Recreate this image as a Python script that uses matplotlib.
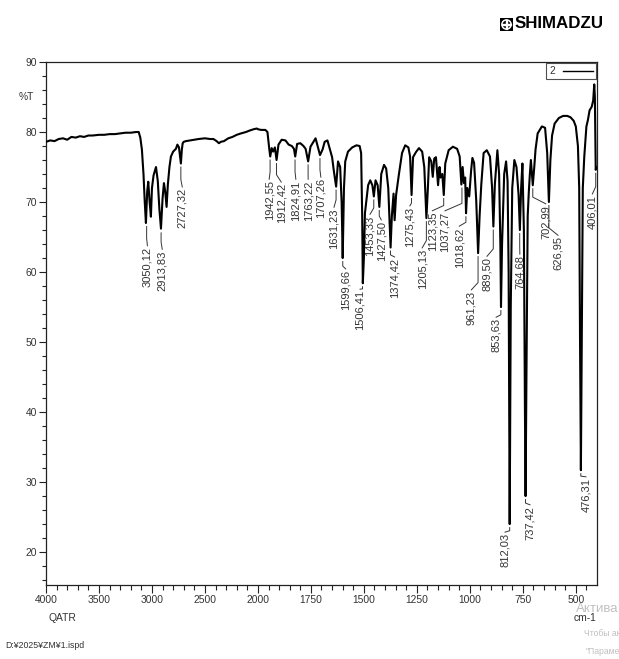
import numpy as np
import matplotlib
matplotlib.use('Agg')
import matplotlib.pyplot as plt
from matplotlib.patches import Rectangle, Circle

plt.rcParams['font.family'] = ['Liberation Sans', 'DejaVu Sans']

# ---------------- data ----------------
wavenumber = [
    4000, 3960, 3920, 3880, 3840, 3800, 3760, 3720, 3680, 3640, 3600, 3560, 3500,
    3450, 3400, 3350, 3300, 3250, 3200, 3150, 3125, 3110, 3095, 3080, 3068, 3057,
    3045, 3035, 3022, 3010, 3000, 2985, 2962, 2945, 2930, 2915, 2900, 2887, 2875,
    2862, 2850, 2835, 2821, 2800, 2774, 2760, 2745, 2735, 2727, 2718, 2710, 2700,
    2679, 2640, 2600, 2560, 2500, 2450, 2420, 2390, 2368, 2350, 2320, 2280, 2240,
    2200, 2160, 2113, 2080, 2040, 2010,
    2000, 1985, 1965, 1955, 1948, 1942, 1935, 1928, 1920, 1912, 1903, 1888, 1870,
    1855, 1840, 1830, 1824, 1815, 1800, 1785, 1775, 1763, 1752, 1740, 1728, 1720,
    1707, 1695, 1685, 1672, 1660, 1650, 1642, 1631, 1622, 1612, 1605, 1600, 1594,
    1588, 1575, 1555, 1535, 1520, 1513, 1508, 1505, 1500, 1495, 1480, 1470, 1460,
    1453, 1445, 1435, 1427, 1418, 1405, 1395, 1385, 1374, 1368, 1360, 1355, 1348,
    1335, 1320, 1305, 1290, 1282, 1275, 1268, 1255, 1240, 1225, 1215, 1205, 1198,
    1192, 1182, 1175, 1168, 1160, 1150, 1143, 1138, 1130, 1123, 1116, 1100, 1080,
    1060, 1048, 1040, 1034, 1028, 1022, 1018, 1012, 1003, 994, 988, 980, 970, 961,
    954, 946, 935, 920, 905, 895, 889, 882, 870, 862, 856, 853, 848, 838, 829, 822,
    817, 812, 807, 800, 790, 780, 770, 764, 758, 752, 745, 740, 737, 733, 727, 722,
    717, 712, 703, 696, 690, 680, 660, 645, 635, 627, 620, 612, 600, 580, 560, 540,
    525, 510, 500, 490, 484, 480, 476, 472, 467, 460, 450, 443, 435, 425, 418, 413,
    410, 408, 406, 403, 400,
]
transmittance = [
    78.6, 78.8, 78.7, 79.0, 79.1, 78.9, 79.3, 79.2, 79.4, 79.3, 79.5, 79.5, 79.6,
    79.6, 79.7, 79.7, 79.8, 79.9, 79.9, 80.0, 80.0, 79.2, 77.5, 74.0, 70.0, 67.0,
    71.5, 72.9, 70.0, 67.9, 72.0, 73.8, 75.0, 73.0, 69.0, 66.2, 70.5, 72.7, 71.5,
    69.3, 72.5, 75.0, 76.5, 77.2, 77.6, 78.2, 77.8, 76.5, 75.5, 77.5, 78.4, 78.6,
    78.7, 78.8, 78.9, 79.0, 79.1, 79.0, 79.0, 78.7, 78.4, 78.6, 78.7, 79.1, 79.3,
    79.6, 79.8, 80.0, 80.2, 80.4, 80.5,
    80.4, 80.3, 80.3, 80.0, 78.0, 76.5, 77.7, 77.2, 77.8, 76.0, 78.2, 78.9, 78.8,
    78.2, 78.0, 77.6, 76.5, 78.3, 78.4, 78.0, 77.6, 75.8, 77.9, 78.5, 79.1, 78.2,
    76.7, 77.5, 78.6, 78.8, 77.5, 76.4, 74.5, 72.2, 75.8, 75.0, 70.0, 62.0, 72.0,
    75.8, 77.2, 77.8, 78.1, 78.0, 77.0, 68.0, 58.4, 62.0, 68.4, 72.4, 73.1, 72.4,
    70.8, 73.1, 72.4, 69.3, 74.0, 75.3, 74.8, 72.0, 63.5, 68.0, 71.2, 67.4, 71.0,
    73.9, 77.0, 78.1, 77.8, 76.5, 71.0, 76.4, 77.1, 77.7, 77.2, 75.0, 67.7, 72.0,
    76.4, 75.8, 73.6, 76.2, 76.4, 72.4, 75.0, 73.5, 74.0, 71.0, 75.5, 77.4, 77.9,
    77.6, 76.5, 72.5, 75.0, 72.7, 73.5, 68.4, 72.0, 70.8, 74.5, 76.3, 75.6, 70.3, 62.7,
    68.0, 72.5, 77.0, 77.4, 76.5, 72.0, 66.5, 72.5, 77.4, 74.0, 64.0, 55.0, 64.0, 74.0, 75.8, 73.0,
    60.0, 24.0, 55.0, 72.0, 76.0, 75.0, 71.0, 66.0, 72.0, 75.5, 66.0, 40.0, 28.0, 45.0, 68.0, 71.3,
    73.9, 76.0, 72.4, 75.0, 77.5, 79.8, 80.8, 80.6, 77.0, 70.0, 76.0, 79.5, 81.2, 82.0, 82.3, 82.3,
    82.1, 81.6, 80.8, 78.0, 72.0, 50.0, 31.7, 50.0, 72.0, 76.5, 80.8, 81.7, 83.1, 83.6, 84.5, 86.8,
    85.0, 80.0, 74.6, 75.0, 74.8,
]

peak_wn = [3050.12, 2913.83, 2727.32, 1942.55, 1912.42, 1824.91, 1763.22, 1707.26,
           1631.23, 1599.66, 1506.41, 1453.33, 1427.50, 1374.42, 1275.43, 1205.13,
           1123.35, 1037.27, 1018.62, 961.23, 889.50, 853.63, 812.03, 764.68,
           737.42, 702.99, 626.95, 476.31, 406.01]
peak_T = [67.0, 66.1, 75.5, 76.5, 76.0, 76.5, 75.8, 76.7,
          72.2, 62.0, 58.4, 70.8, 69.3, 63.5, 71.0, 67.7,
          71.0, 72.5, 68.4, 62.7, 66.5, 55.0, 24.0, 66.0,
          28.0, 72.4, 70.0, 31.7, 74.6]

# label layout (text x in cm-1, text top in %T)
label_wn = [3043, 2903, 2714, 1947, 1890, 1821, 1763, 1703,
            1641, 1586, 1518, 1471, 1418, 1355, 1283, 1225,
            1177, 1117, 1050, 993, 919, 876, 834, 764,
            716, 642, 584, 452, 422]
label_top = [63.6, 63.1, 72.0, 73.1, 72.7, 73.1, 73.1, 73.4,
             69.1, 60.3, 57.4, 68.1, 67.3, 62.0, 69.3, 63.3,
             68.6, 68.6, 66.4, 57.3, 62.1, 53.4, 22.7, 62.4,
             26.6, 69.6, 65.1, 30.6, 71.0]

major_x = [4000, 3500, 3000, 2500, 2000, 1750, 1500, 1250, 1000, 750, 500]
major_y = [20, 30, 40, 50, 60, 70, 80, 90]

# ---------------- figure ----------------
W, H = 619, 659
fig = plt.figure(figsize=(W / 100, H / 100), dpi=100)
fig.patch.set_facecolor('white')
ax = fig.add_axes([46 / W, (H - 585) / H, 551 / W, 523 / H])


def fwd(x):
    x = np.asarray(x, dtype=float)
    return np.where(x > 2000, 2000 + (x - 2000) / 2.0, x)


def inv(u):
    u = np.asarray(u, dtype=float)
    return np.where(u > 2000, 2000 + (u - 2000) * 2.0, u)


ax.set_xscale('function', functions=(fwd, inv))
ax.plot(wavenumber, transmittance, color='black', lw=1.5, label='2', zorder=3)
ax.set_xlim(4000, 400)
ax.set_ylim(15.3, 90)

ax.set_xticks(major_x)
ax.set_xticklabels([str(v) for v in major_x])
minor_x = [v for v in list(range(3900, 2000, -100)) + list(range(1950, 400, -50))
           if v not in major_x]
ax.set_xticks(minor_x, minor=True)
ax.set_yticks(major_y)
ax.set_yticks([v for v in range(16, 90, 2) if v not in major_y], minor=True)

ax.tick_params(which='both', direction='out', top=False, right=False,
               colors='#222222', labelcolor='#333333', labelsize=7.4, width=0.8)
ax.tick_params(axis='x', which='major', length=5.5, pad=2)
ax.tick_params(axis='x', which='minor', length=3.6)
ax.tick_params(axis='y', which='major', length=5.0, pad=1.5)
ax.tick_params(axis='y', which='minor', length=3.2)
for s in ax.spines.values():
    s.set_color('#222222')
    s.set_linewidth(0.9)

# peak labels
for pw, pt, lw_, lt in zip(peak_wn, peak_T, label_wn, label_top):
    txt = f"{pw:.2f}".replace('.', ',')
    knee = lt + max(0.2, min(1.2, (pt - 0.6 - lt) * 0.5))
    ax.plot([pw, pw, lw_], [pt - 0.5, knee, lt + 0.15], color='#333333', lw=0.7, zorder=2)
    ax.text(lw_, lt, txt, rotation=90, ha='center', va='top', fontsize=8,
            color='#333333', zorder=4)

leg = ax.legend(loc='upper right', bbox_to_anchor=(0.998, 0.998), borderaxespad=0,
                markerfirst=False, fancybox=False, frameon=True, fontsize=7.4,
                handlelength=2.9, handletextpad=0.8, borderpad=0.3)
leg.get_frame().set_edgecolor('#222222')
leg.get_frame().set_linewidth(0.8)
for t in leg.get_texts():
    t.set_color('#333333')
for l in leg.get_lines():
    l.set_linewidth(1.0)

# axis annotations
fig.text(26 / W, 1 - 97 / H, '%T', fontsize=7.4, color='#333333', ha='center', va='center')
fig.text(62 / W, 1 - 618 / H, 'QATR', fontsize=7.4, color='#333333', ha='center', va='center')
fig.text(585 / W, 1 - 618 / H, 'cm-1', fontsize=7.4, color='#333333', ha='center', va='center')
fig.text(5 / W, 1 - 646 / H, 'D:¥2025¥ZM¥1.ispd', fontsize=6.3, color='#333333',
         ha='left', va='center')

# SHIMADZU logo
fig.text(515 / W, 1 - 24 / H, 'SHIMADZU', fontsize=12.2, fontweight='bold',
         color='black', ha='left', va='center')
lax = fig.add_axes([500 / W, 1 - 31 / H, 13 / W, 13 / H])
lax.set_xlim(0, 1)
lax.set_ylim(0, 1)
lax.axis('off')
lax.add_patch(Rectangle((0, 0), 1, 1, color='black'))
lax.add_patch(Circle((0.5, 0.5), 0.36, color='white'))
lax.add_patch(Circle((0.5, 0.5), 0.24, color='black'))
lax.add_patch(Rectangle((0.18, 0.44), 0.64, 0.12, color='white'))
lax.add_patch(Rectangle((0.44, 0.18), 0.12, 0.64, color='white'))

# screen watermark visible (cut) in the reference
fig.text(576 / W, 1 - 609 / H, 'Актива', fontsize=9.5, color='#c0c0c0',
         ha='left', va='center', zorder=0)
fig.text(584 / W, 1 - 634 / H, 'Чтобы ак', fontsize=6.2, color='#c0c0c0',
         ha='left', va='center')
fig.text(586 / W, 1 - 652 / H, '"Параме', fontsize=6.2, color='#c0c0c0',
         ha='left', va='center')

fig.savefig('out.png', dpi=100, facecolor='white')
